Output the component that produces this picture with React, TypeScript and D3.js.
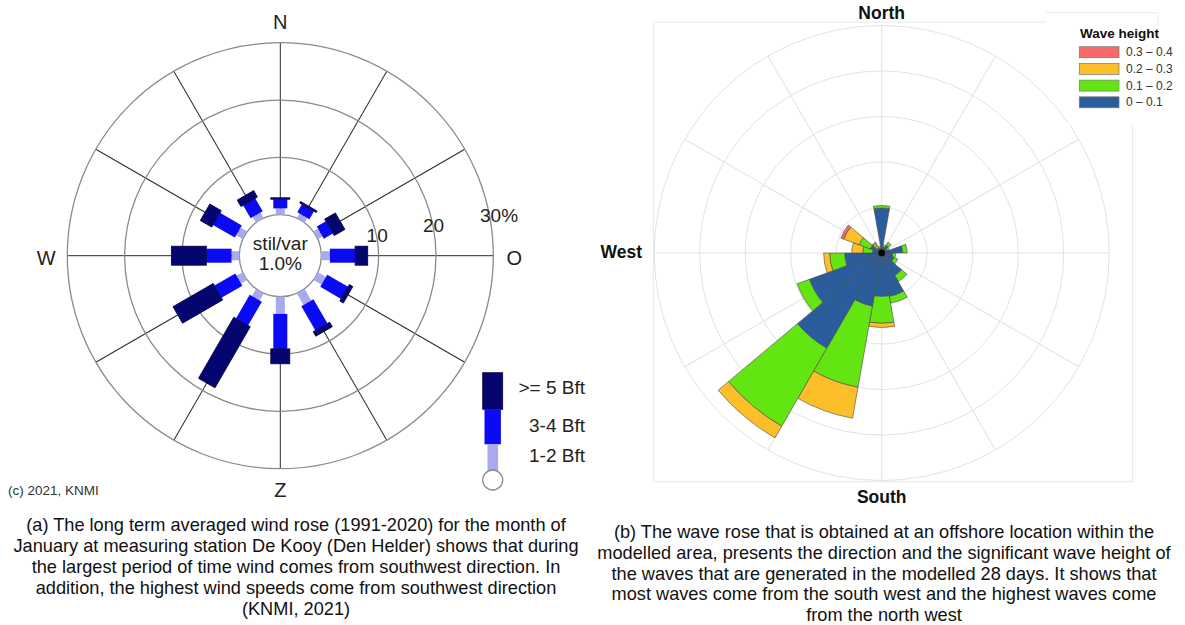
import React, { useEffect } from 'react';
import * as d3 from 'd3';

// ---------- Wind rose (a) ----------
const windDirections = [0, 30, 60, 90, 120, 150, 180, 210, 240, 270, 300, 330];
const windLow = [1.1, 0.9, 0.9, 1.5, 1.6, 2.3, 3.0, 1.4, 1.2, 1.35, 1.3, 1.1]; // 1-2 Bft
const windMid = [1.6, 1.6, 1.85, 4.4, 4.2, 4.9, 6.1, 4.8, 4.2, 4.4, 4.4, 2.6]; // 3-4 Bft
const windHigh = [0.25, 0.3, 2.15, 2.2, 0.7, 0.9, 2.6, 12.3, 8.1, 6.1, 2.3, 1.3]; // >= 5 Bft
const windRings = [0, 10, 20, 30];
const windTickValues = [10, 20, 30];
const windTickLabels = ['10', '20', '30%'];
const compassDirs = [0, 90, 180, 270];
const compassLabels = ['N', 'O', 'Z', 'W'];
const calmLines = ['stil/var', '1.0%'];
const windLegendLabels = ['>= 5 Bft', '3-4 Bft', '1-2 Bft'];

// ---------- Wave rose (b) ----------
const waveDirections = [0, 20, 40, 60, 80, 100, 120, 140, 160, 180, 200, 220, 240, 260, 280, 300, 320, 340];
const waveBlue = [4.95, 0.66, 0.99, 0.66, 2.31, 1.21, 1.43, 2.86, 4.84, 4.78, 5.93, 12.09, 8.46, 4.07, 1.02, 1.32, 0.66, 0.55]; // 0-0.1
const waveGreen = [0.27, 0.27, 0.38, 0.22, 0.49, 0.33, 0.44, 0.77, 0.77, 2.95, 9.05, 9.89, 1.43, 1.65, 1.07, 1.32, 0.33, 0.22]; // 0.1-0.2
const waveOrange = [0, 0, 0, 0, 0, 0, 0, 0, 0, 0.46, 3.46, 1.48, 0, 0.66, 1.21, 1.81, 0.22, 0]; // 0.2-0.3
const waveRed = [0, 0, 0, 0, 0, 0, 0, 0, 0, 0, 0, 0, 0, 0, 0, 0.33, 0.16, 0]; // 0.3-0.4
const waveRings = [5, 10, 15, 20, 25];
const waveGridAngles = [0, 30, 60, 90, 120, 150, 180, 210, 240, 270, 300, 330];
const waveLegendLabels = ['0.3 \u2013 0.4', '0.2 \u2013 0.3', '0.1 \u2013 0.2', '0 \u2013 0.1'];

const captionA = [
  '(a) The long term averaged wind rose (1991-2020) for the month of',
  'January at measuring station De Kooy (Den Helder) shows that during',
  'the largest period of time wind comes from southwest direction.  In',
  'addition, the highest wind speeds come from southwest direction',
  '(KNMI, 2021)',
];
const captionB = [
  '(b) The wave rose that is obtained at an offshore location within the',
  'modelled area, presents the direction and the significant wave height of',
  'the waves that are generated in the modelled 28 days.  It shows that',
  'most waves come from the south west and the highest waves come',
  'from the north west',
];

const FONT = '"Liberation Sans", Arial, Helvetica, sans-serif';

export default function App() {
  useEffect(() => {
    document.body.style.margin = '0';
  }, []);

  // left chart geometry
  const lcx = 280.3, lcy = 255.7;
  const rL = d3.scaleLinear().domain([0, 30]).range([41, 213]);
  const windColors = ['#a9a9f2', '#0a0af4', '#05056f'];
  const windWidths = [9, 14, 19];
  const windSeries = [windLow, windMid, windHigh];

  // right chart geometry
  const rcx = 881.7, rcy = 253;
  const rR = d3.scaleLinear().domain([0, 25]).range([0, 227.5]);
  const waveSeries = [waveBlue, waveGreen, waveOrange, waveRed];
  const waveColors = ['#2b5c9c', '#63e512', '#fcbf2a', '#f76a6a'];
  const arc = d3.arc<any>();
  const rad = (deg: number) => (deg * Math.PI) / 180;

  const wedges: { d: string; fill: string; key: string }[] = [];
  waveDirections.forEach((dir, i) => {
    let cum = 0;
    waveSeries.forEach((s, k) => {
      const v = s[i];
      if (v <= 0) return;
      const inner = rR(cum);
      cum += v;
      const outer = rR(cum);
      wedges.push({
        key: `${dir}-${k}`,
        fill: waveColors[k],
        d: arc({ innerRadius: inner, outerRadius: outer, startAngle: rad(dir - 10), endAngle: rad(dir + 10) }) as string,
      });
    });
  });

  const tickAngle = rad(10);

  return (
    <svg width={1185} height={625} style={{ display: 'block', background: '#fff', fontFamily: FONT }}>
      {/* ================= LEFT: wind rose ================= */}
      <g transform={`translate(${lcx},${lcy})`}>
        {windDirections.map((d) => (
          <line key={`sp${d}`} x1={0} y1={-rL(0)} x2={0} y2={-rL(30)} transform={`rotate(${d})`} stroke="#2a2a2a" strokeWidth={1} />
        ))}
        {windRings.map((v) => (
          <circle key={`rg${v}`} r={rL(v)} fill="none" stroke="#8a8a8a" strokeWidth={1.3} />
        ))}
        {windDirections.map((d, i) => {
          let cum = 0;
          return (
            <g key={`bar${d}`} transform={`rotate(${d})`}>
              {windSeries.map((s, k) => {
                const r0 = rL(cum);
                cum += s[i];
                const r1 = rL(cum);
                const w = windWidths[k];
                return (
                  <rect key={k} x={-w / 2} y={-r1} width={w} height={r1 - r0} fill={windColors[k]}
                    stroke={k === 2 ? '#03034a' : 'none'} strokeWidth={k === 2 ? 0.8 : 0} />
                );
              })}
            </g>
          );
        })}
        <text x={0} y={-12} textAnchor="middle" dominantBaseline="central" fontSize={19} fill="#222">{calmLines[0]}</text>
        <text x={0} y={7.5} textAnchor="middle" dominantBaseline="central" fontSize={19} fill="#222">{calmLines[1]}</text>
        {windTickValues.map((v, i) => (
          <text key={`tk${v}`} x={rL(v) * Math.cos(tickAngle) + (i === 2 ? 9 : 0)} y={-rL(v) * Math.sin(tickAngle) - 3}
            textAnchor="middle" dominantBaseline="central" fontSize={19} fill="#222">{windTickLabels[i]}</text>
        ))}
      </g>
      {compassDirs.map((d, i) => {
        const r = 234;
        const x = lcx + r * Math.sin(rad(d));
        const y = lcy - r * Math.cos(rad(d));
        return (
          <text key={`cp${d}`} x={x} y={y + (d === 0 ? 0 : d === 180 ? 0 : 2)} textAnchor="middle" dominantBaseline="central" fontSize={20} fill="#222">
            {compassLabels[i]}
          </text>
        );
      })}
      <text x={8} y={490} dominantBaseline="central" fontSize={13.5} fill="#333">(c) 2021, KNMI</text>
      {/* wind legend */}
      <g>
        <rect x={482.7} y={372.7} width={20} height={36.6} fill={windColors[2]} stroke="#03034a" strokeWidth={0.8} />
        <rect x={484.5} y={409.3} width={16.4} height={35} fill={windColors[1]} />
        <rect x={487.5} y={444.3} width={10.6} height={26} fill={windColors[0]} />
        <circle cx={492.7} cy={480} r={10} fill="#fff" stroke="#8a8a8a" strokeWidth={1.3} />
        {windLegendLabels.map((t, i) => (
          <text key={t} x={585} y={[387.5, 425.5, 455.5][i]} textAnchor="end" dominantBaseline="central" fontSize={19} fill="#222">{t}</text>
        ))}
      </g>

      {/* ================= RIGHT: wave rose ================= */}
      {/* panel border */}
      <line x1={653.3} y1={22} x2={653.3} y2={481.7} stroke="#e8e8e8" />
      <line x1={653.3} y1={481.7} x2={1132.7} y2={481.7} stroke="#e8e8e8" />
      <line x1={1132.7} y1={125} x2={1132.7} y2={481.7} stroke="#e8e8e8" />
      <line x1={653.3} y1={22} x2={1046} y2={22} stroke="#e8e8e8" />
      <g transform={`translate(${rcx},${rcy})`}>
        {waveRings.map((v) => (
          <circle key={`wr${v}`} r={rR(v)} fill="none" stroke="#e2e2e2" strokeWidth={1} />
        ))}
        {waveGridAngles.map((a) => (
          <line key={`wg${a}`} x1={0} y1={0} x2={0} y2={-rR(25)} transform={`rotate(${a})`} stroke="#e2e2e2" strokeWidth={1} />
        ))}
        {wedges.map((w) => (
          <path key={w.key} d={w.d} fill={w.fill} stroke="#4a4a4a" strokeWidth={0.6} />
        ))}
        <circle r={3.4} fill="#000" />
      </g>
      <text x={rcx} y={13} textAnchor="middle" dominantBaseline="central" fontSize={17.5} fontWeight="bold" fill="#111">North</text>
      <text x={rcx} y={497} textAnchor="middle" dominantBaseline="central" fontSize={17.5} fontWeight="bold" fill="#111">South</text>
      <text x={642} y={252} textAnchor="end" dominantBaseline="central" fontSize={17.5} fontWeight="bold" fill="#111">West</text>
      {/* wave legend */}
      <rect x={1068} y={13} width={91} height={112} fill="#fff" />
      <line x1={1046} y1={12.7} x2={1158} y2={12.7} stroke="#ececec" />
      <line x1={1158} y1={12.7} x2={1158} y2={25} stroke="#ececec" />
      <text x={1080} y={33.3} dominantBaseline="central" fontSize={13.5} fontWeight="bold" fill="#111">Wave height</text>
      {waveLegendLabels.map((t, i) => {
        const y = 46.7 + i * 16.7;
        const color = waveColors[3 - i];
        return (
          <g key={t}>
            <rect x={1079.3} y={y} width={39.7} height={11} fill={color} stroke="#777" strokeWidth={0.7} />
            <text x={1126} y={y + 5.5} dominantBaseline="central" fontSize={12} fill="#333">{t}</text>
          </g>
        );
      })}

      {/* ================= captions ================= */}
      {captionA.map((t, i) => (
        <text key={`ca${i}`} x={296} y={525 + i * 21} textAnchor="middle" dominantBaseline="central" fontSize={18.2} fill="#111">{t}</text>
      ))}
      {captionB.map((t, i) => (
        <text key={`cb${i}`} x={884} y={532 + i * 20.8} textAnchor="middle" dominantBaseline="central" fontSize={18.2} fill="#111">{t}</text>
      ))}
    </svg>
  );
}
